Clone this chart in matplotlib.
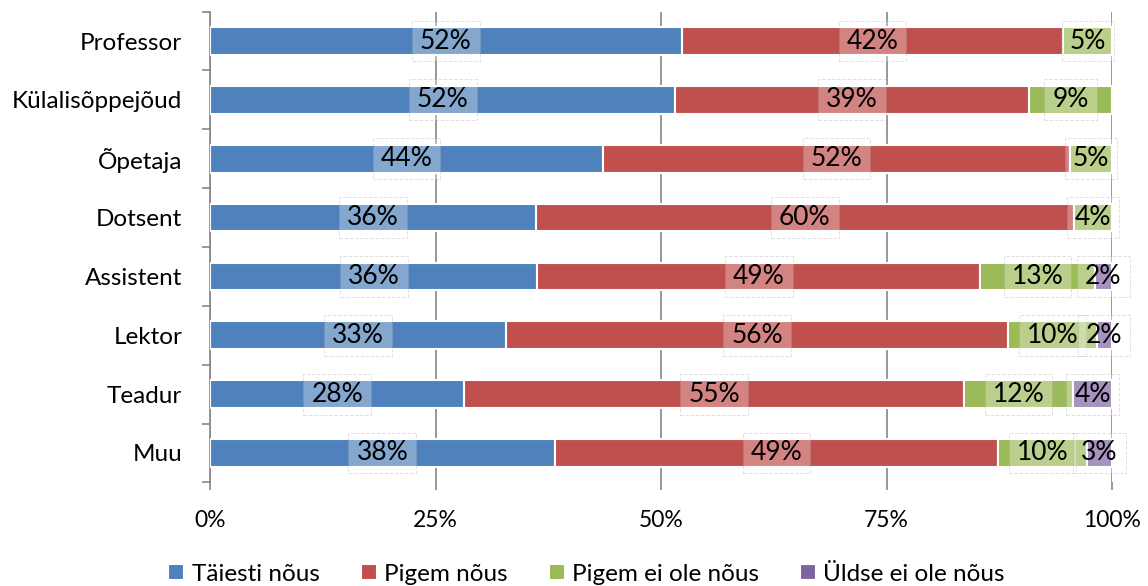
import numpy as np
import matplotlib.pyplot as plt

categories = ['Professor', 'Külalisõppejõud', 'Õpetaja', 'Dotsent',
              'Assistent', 'Lektor', 'Teadur', 'Muu']
series = ['Täiesti nõus', 'Pigem nõus', 'Pigem ei ole nõus', 'Üldse ei ole nõus']
taiesti = [52.3, 51.6, 43.6, 36.1, 36.3, 32.8, 28.2, 38.2]
pigem = [42.3, 39.2, 51.7, 59.7, 49.1, 55.7, 55.4, 49.2]
pigem_ei = [5.4, 9.2, 4.7, 4.2, 12.7, 9.8, 12.1, 9.8]
uldse = [0.0, 0.0, 0.0, 0.0, 1.9, 1.7, 4.3, 2.8]
labels = [['52%', '52%', '44%', '36%', '36%', '33%', '28%', '38%'],
          ['42%', '39%', '52%', '60%', '49%', '56%', '55%', '49%'],
          ['5%', '9%', '5%', '4%', '13%', '10%', '12%', '10%'],
          ['', '', '', '', '2%', '2%', '4%', '3%']]
colors = ['#4F81BD', '#C0504D', '#9BBB59', '#8064A2']

plt.rcParams['font.family'] = ['Lato', 'DejaVu Sans']

fig = plt.figure(figsize=(11.48, 5.86), dpi=100)
ax = fig.add_axes([210/1148, 1-482.4/586, 902/1148, (482.4-11.6)/586])

y = np.arange(len(categories))
data = [taiesti, pigem, pigem_ei, uldse]
left = np.zeros(len(categories))
for k, vals in enumerate(data):
    vals = np.array(vals)
    ax.barh(y, vals, left=left, height=0.47, color=colors[k],
            edgecolor='white', linewidth=1.5, label=series[k], zorder=3)
    for i, v in enumerate(vals):
        if labels[k][i]:
            ax.text(left[i] + v/2, y[i], labels[k][i], ha='center', va='center',
                    fontsize=19, color='black', zorder=5,
                    bbox=dict(boxstyle='square,pad=0.3', facecolor='white',
                              alpha=0.3, edgecolor='#999999', linestyle='--',
                              linewidth=0.7))
    left += vals

ax.set_xlim(0, 100)
ax.set_ylim(len(categories) - 0.5, -0.5)
ax.set_yticks(y)
ax.set_yticklabels(categories, fontsize=17.5)
ax.set_yticks(np.arange(-0.5, len(categories)), minor=True)
ax.tick_params(axis='y', which='major', length=0, pad=20)
ax.tick_params(axis='y', which='minor', length=6, color='#868686', width=1.2)
ax.set_xticks([0, 25, 50, 75, 100])
ax.set_xticklabels(['0%', '25%', '50%', '75%', '100%'], fontsize=16.5)
ax.tick_params(axis='x', length=6, color='#868686', width=1.2, pad=14)
ax.grid(axis='x', color='#868686', linewidth=1.2, zorder=0)
for s in ['top', 'right', 'bottom']:
    ax.spines[s].set_visible(False)
ax.spines['left'].set_color('#868686')
ax.spines['left'].set_linewidth(1.2)

fig.legend(loc='lower center', bbox_to_anchor=(0.511, -0.035), ncol=4,
           fontsize=17.5, frameon=False, handlelength=0.65, handleheight=0.65,
           handletextpad=0.3, columnspacing=1.7)

fig.savefig('out.png', dpi=100)
